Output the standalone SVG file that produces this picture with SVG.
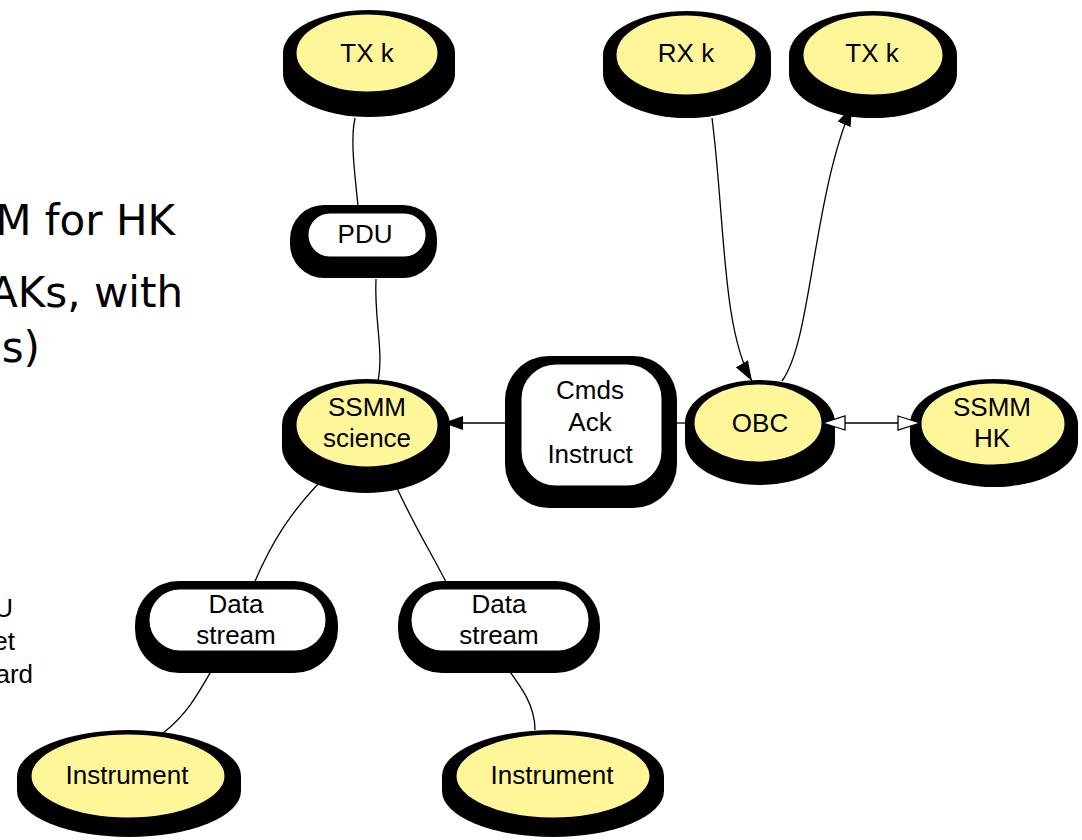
<svg xmlns="http://www.w3.org/2000/svg" width="1082" height="840" viewBox="0 0 1082 840">
  <style>
    .shadow { fill: #000; }
    .disk { fill: #fff699; stroke: #000; stroke-width: 3; }
    .box { fill: #fff; stroke: #000; stroke-width: 3; }
    .lbl { font-family: "Liberation Sans", Arial, sans-serif; font-size: 26px; fill: #000; text-anchor: middle; }
    .big { font-family: "DejaVu Sans", Verdana, sans-serif; font-size: 42px; fill: #000; text-anchor: end; }
    .small { font-family: "Liberation Sans", Arial, sans-serif; font-size: 26px; fill: #000; text-anchor: end; }
    .edge { fill: none; stroke: #000; stroke-width: 1.3; }
  </style>
  <defs>
    <marker id="solid" viewBox="0 0 20 14" refX="20" refY="7" markerWidth="20" markerHeight="14" markerUnits="userSpaceOnUse" orient="auto">
      <path d="M0 0 L20 7 L0 14 Z" fill="#000"/>
    </marker>
    <marker id="hollow" viewBox="0 0 24 16" refX="23" refY="8" markerWidth="24" markerHeight="16" markerUnits="userSpaceOnUse" orient="auto-start-reverse">
      <path d="M1 1 L23 8 L1 15 Z" fill="#fff" stroke="#000" stroke-width="1.3"/>
    </marker>
  </defs>

  <rect width="1082" height="840" fill="#fff"/>

  <!-- slide text running in from the left -->
  <g id="slide-text">
    <text class="big" x="175" y="235">M for HK</text>
    <text class="big" x="183" y="307">AKs, with</text>
    <text class="big" x="40" y="362">s)</text>
    <text class="small" x="13" y="617">U</text>
    <text class="small" x="15" y="650">et</text>
    <text class="small" x="33" y="683">ard</text>
  </g>

  <!-- nodes: each disk sits on a black extruded base -->
  <g id="tx-k-left">
    <path class="shadow" d="M283 53 A86 43 0 0 1 455 53 L455 74 A86 43 0 0 1 283 74 Z"/>
    <ellipse class="disk" cx="367" cy="53" rx="72" ry="40"/>
    <text class="lbl" x="367" y="62">TX k</text>
  </g>

  <g id="rx-k">
    <path class="shadow" d="M603 55 A84 44 0 0 1 771 55 L771 74 A84 44 0 0 1 603 74 Z"/>
    <ellipse class="disk" cx="686" cy="55" rx="71" ry="41"/>
    <text class="lbl" x="686" y="62">RX k</text>
  </g>

  <g id="tx-k-right">
    <path class="shadow" d="M789 55 A84 44 0 0 1 957 55 L957 74 A84 44 0 0 1 789 74 Z"/>
    <ellipse class="disk" cx="873" cy="55" rx="71" ry="41"/>
    <text class="lbl" x="872" y="62">TX k</text>
  </g>

  <g id="pdu">
    <rect class="shadow" x="290" y="205" width="147" height="73" rx="34"/>
    <rect class="box" x="307" y="212" width="120" height="46" rx="23"/>
    <text class="lbl" x="365" y="243">PDU</text>
  </g>

  <g id="ssmm-science">
    <path class="shadow" d="M282 425 A84 46 0 0 1 450 425 L450 447 A84 46 0 0 1 282 447 Z"/>
    <ellipse class="disk" cx="367" cy="425" rx="72" ry="43"/>
    <text class="lbl" x="367" y="416">SSMM</text>
    <text class="lbl" x="367" y="447">science</text>
  </g>

  <g id="cmds">
    <rect class="shadow" x="505" y="356" width="172" height="152" rx="44"/>
    <rect class="box" x="520" y="363" width="143" height="124" rx="36"/>
    <text class="lbl" x="590" y="399">Cmds</text>
    <text class="lbl" x="590" y="431">Ack</text>
    <text class="lbl" x="590" y="463">Instruct</text>
  </g>

  <g id="obc">
    <path class="shadow" d="M685 423 A75 43 0 0 1 835 423 L835 442 A75 43 0 0 1 685 442 Z"/>
    <ellipse class="disk" cx="758" cy="423" rx="65" ry="40"/>
    <text class="lbl" x="760" y="432">OBC</text>
  </g>

  <g id="ssmm-hk">
    <path class="shadow" d="M910 424 A84 45 0 0 1 1078 424 L1078 442 A84 45 0 0 1 910 442 Z"/>
    <ellipse class="disk" cx="993" cy="424" rx="73" ry="42"/>
    <text class="lbl" x="992" y="416">SSMM</text>
    <text class="lbl" x="992" y="447">HK</text>
  </g>

  <g id="data-stream-left">
    <rect class="shadow" x="135" y="581" width="203" height="92" rx="44"/>
    <rect class="box" x="148" y="588" width="179" height="64" rx="32"/>
    <text class="lbl" x="236" y="613">Data</text>
    <text class="lbl" x="236" y="644">stream</text>
  </g>

  <g id="data-stream-right">
    <rect class="shadow" x="398" y="581" width="202" height="92" rx="44"/>
    <rect class="box" x="410" y="588" width="180" height="64" rx="32"/>
    <text class="lbl" x="499" y="613">Data</text>
    <text class="lbl" x="499" y="644">stream</text>
  </g>

  <g id="instrument-left">
    <path class="shadow" d="M17 776 A112 46 0 0 1 241 776 L241 791 A112 46 0 0 1 17 791 Z"/>
    <ellipse class="disk" cx="128" cy="776" rx="98" ry="43"/>
    <text class="lbl" x="127" y="784">Instrument</text>
  </g>

  <g id="instrument-right">
    <path class="shadow" d="M442 776 A111 46 0 0 1 664 776 L664 791 A111 46 0 0 1 442 791 Z"/>
    <ellipse class="disk" cx="553" cy="776" rx="98" ry="43"/>
    <text class="lbl" x="552" y="784">Instrument</text>
  </g>

  <!-- connectors, drawn over the node bases so arrowheads stay visible -->
  <g id="connectors">
    <path class="edge" d="M358 206 C 355 175, 350 140, 355 118"/>
    <path class="edge" d="M376 279 C 374 320, 384 350, 378 381"/>
    <path class="edge" d="M520 423 L 443 423" marker-end="url(#solid)"/>
    <path class="edge" d="M677 423 L 693 423"/>
    <path class="edge" d="M712 118 C 725 220, 722 330, 752 381" marker-end="url(#solid)"/>
    <path class="edge" d="M782 381 C 812 340, 812 200, 852 106" marker-end="url(#solid)"/>
    <path class="edge" d="M823 423 L 920 423" marker-start="url(#hollow)" marker-end="url(#hollow)"/>
    <path class="edge" d="M253 586 C 270 545, 290 510, 334 468" marker-end="url(#solid)"/>
    <path class="edge" d="M447 584 C 430 550, 410 520, 388 468" marker-end="url(#solid)"/>
    <path class="edge" d="M221 654 C 200 690, 190 712, 163 733"/>
    <path class="edge" d="M497 654 C 515 680, 535 700, 535 730"/>
  </g>
</svg>
